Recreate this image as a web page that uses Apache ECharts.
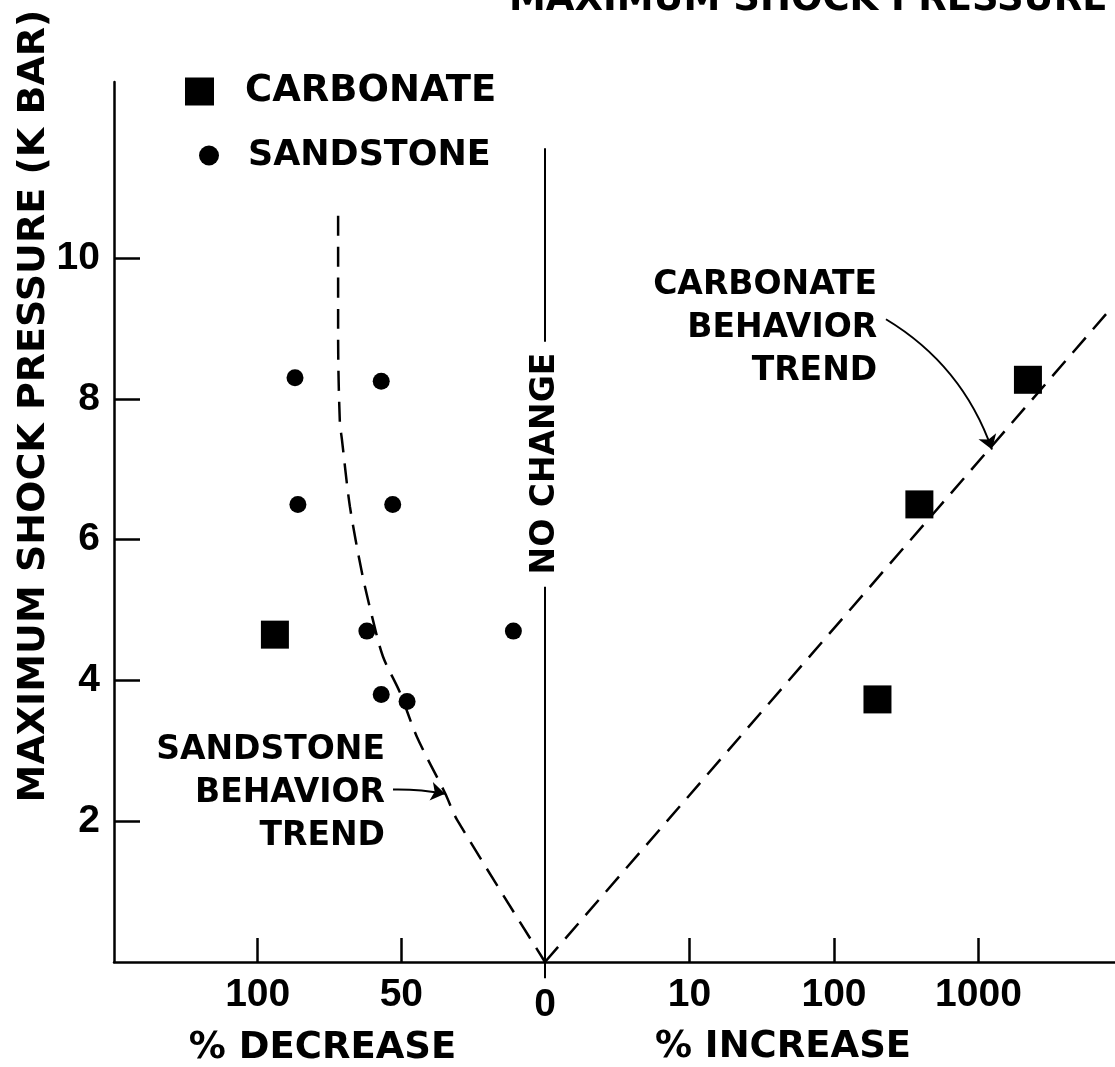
<!DOCTYPE html>
<html>
<head>
<meta charset="utf-8">
<script src="https://cdn.jsdelivr.net/npm/echarts@6/dist/echarts.min.js"></script>
<style>
  html, body { margin: 0; padding: 0; background: #fff; }
  #chart { width: 1115px; height: 1067px; }
</style>
</head>
<body>
<div id="chart"></div>
<script>
// Sandstone samples: % decrease vs. maximum shock pressure (kbar)
const sandstoneDecrease = [87, 57, 86, 53, 62, 11, 57, 48];
const sandstonePressure = [8.3, 8.25, 6.5, 6.5, 4.7, 4.7, 3.8, 3.7];

// Carbonate samples that decreased
const carbonateDecrease = [94];
const carbonateDecPressure = [4.65];

// Carbonate samples that increased
const carbonateIncrease = [200, 390, 2200];
const carbonateIncPressure = [3.73, 6.5, 8.27];

// Sandstone behaviour trend (dashed curve)
const sandTrendDecrease = [72, 72, 71.4, 70.7, 67.9, 63.7, 60.2, 56.4, 50.5, 44.6, 34.8, 30.6, 0];
const sandTrendPressure = [10.6, 8.85, 7.67, 7.43, 6.47, 5.53, 4.91, 4.34, 3.83, 3.2, 2.4, 2.02, 0];

// Carbonate behaviour trend (dashed straight line)
const carbTrendIncrease = [1, 8400];
const carbTrendPressure = [0, 9.3];

// "No change" reference line, broken where its label sits
const noChangeLower = [-0.23, 5.33];
const noChangeUpper = [8.81, 11.56];

// Tick values
const pressureTicks = [2, 4, 6, 8, 10];
const decreaseTicks = [50, 100];
const decreaseLabels = [0, 50, 100];
const increaseTicks = [10, 100, 1000];

const zip = (xs, ys) => xs.map((x, i) => [x, ys[i]]);

const WORD = 'DejaVu Sans';
const NUM = 'Liberation Sans';
const black = '#000';

const chart = echarts.init(document.getElementById('chart'), null, { renderer: 'canvas' });

const dashed = { color: black, width: 2.5, type: [20, 11], opacity: 1 };
const solidItem = { color: black, opacity: 1 };
const noteLabel = {
  show: true,
  fontFamily: WORD,
  fontWeight: 'bold',
  fontSize: 33,
  lineHeight: 43,
  color: black
};

chart.setOption({
  animation: false,
  backgroundColor: '#fff',
  title: {
    text: 'MAXIMUM SHOCK PRESSURE',
    left: 509,
    top: -20,
    padding: 0,
    textStyle: { fontFamily: WORD, fontWeight: 'bold', fontSize: 37, lineHeight: 40, color: black }
  },
  legend: [
    {
      data: [{ name: 'CARBONATE', icon: 'rect' }],
      left: 180, top: 68,
      itemWidth: 29, itemHeight: 28,
      selectedMode: false,
      textStyle: { fontFamily: WORD, fontWeight: 'bold', fontSize: 37, color: black, padding: [0, 0, 0, 26] }
    },
    {
      data: [{ name: 'SANDSTONE', icon: 'circle' }],
      left: 194, top: 133,
      itemWidth: 20, itemHeight: 20,
      selectedMode: false,
      textStyle: { fontFamily: WORD, fontWeight: 'bold', fontSize: 35, color: black, padding: [0, 0, 0, 24] }
    }
  ],
  grid: [
    { left: 114, top: 82, width: 431, height: 880, outerBoundsMode: 'none' },
    { left: 545, top: 82, width: 570, height: 880, outerBoundsMode: 'none' }
  ],
  xAxis: [
    {
      gridIndex: 0,
      type: 'value',
      inverse: true,
      min: 0, max: 150,
      splitLine: { show: false },
      axisLine: { onZero: false, lineStyle: { color: black, width: 2.5 } },
      axisTick: { inside: true, length: 24, lineStyle: { color: black, width: 2.5 }, customValues: decreaseTicks },
      axisLabel: {
        customValues: decreaseLabels,
        margin: 14,
        fontFamily: NUM, fontWeight: 'bold', fontSize: 39, color: black,
        formatter: v => (v === 0 ? '{z|0}' : String(v)),
        rich: { z: { fontFamily: NUM, fontWeight: 'bold', fontSize: 39, color: black, padding: [10, 0, 0, 0] } }
      },
      name: '% DECREASE',
      nameLocation: 'middle',
      nameGap: 63,
      nameTextStyle: { fontFamily: WORD, fontWeight: 'bold', fontSize: 37, color: black, padding: [0, 14, 0, 0] }
    },
    {
      gridIndex: 1,
      type: 'log',
      logBase: 10,
      min: 1, max: 8810,
      splitLine: { show: false },
      axisLine: { onZero: false, lineStyle: { color: black, width: 2.5 } },
      axisTick: { inside: true, length: 24, lineStyle: { color: black, width: 2.5 }, customValues: increaseTicks },
      axisLabel: {
        customValues: increaseTicks,
        margin: 14,
        fontFamily: NUM, fontWeight: 'bold', fontSize: 39, color: black,
        formatter: v => String(Math.round(v))
      },
      name: '% INCREASE',
      nameLocation: 'middle',
      nameGap: 67,
      nameTextStyle: { fontFamily: WORD, fontWeight: 'bold', fontSize: 37, color: black, padding: [0, 94, 0, 0] }
    }
  ],
  yAxis: [
    {
      gridIndex: 0,
      type: 'value',
      min: 0, max: 12.5,
      splitLine: { show: false },
      axisLine: { onZero: false, lineStyle: { color: black, width: 2.5 } },
      axisTick: { inside: true, length: 26, lineStyle: { color: black, width: 2.5 }, customValues: pressureTicks },
      axisLabel: {
        customValues: pressureTicks,
        margin: 14,
        fontFamily: NUM, fontWeight: 'bold', fontSize: 39, color: black
      },
      name: 'MAXIMUM SHOCK PRESSURE (K BAR)',
      nameLocation: 'middle',
      nameRotate: 90,
      nameGap: 44,
      nameTextStyle: { fontFamily: WORD, fontWeight: 'bold', fontSize: 38, color: black, padding: [0, 0, 0, 232] }
    },
    {
      gridIndex: 1,
      type: 'value',
      min: 0, max: 12.5,
      show: false,
      axisLine: { show: false, onZero: false },
      axisTick: { show: false },
      axisLabel: { show: false },
      splitLine: { show: false }
    }
  ],
  series: [
    {
      name: 'SANDSTONE',
      type: 'scatter',
      xAxisIndex: 0, yAxisIndex: 0,
      symbol: 'circle', symbolSize: 17,
      itemStyle: solidItem,
      data: zip(sandstoneDecrease, sandstonePressure)
    },
    {
      name: 'CARBONATE',
      type: 'scatter',
      xAxisIndex: 0, yAxisIndex: 0,
      symbol: 'rect', symbolSize: 28,
      itemStyle: solidItem,
      data: zip(carbonateDecrease, carbonateDecPressure)
    },
    {
      name: 'CARBONATE',
      type: 'scatter',
      xAxisIndex: 1, yAxisIndex: 1,
      symbol: 'rect', symbolSize: 28,
      itemStyle: solidItem,
      data: zip(carbonateIncrease, carbonateIncPressure)
    },
    {
      name: 'sandstone trend',
      type: 'line',
      xAxisIndex: 0, yAxisIndex: 0,
      smooth: 0.3,
      showSymbol: false,
      lineStyle: dashed,
      data: zip(sandTrendDecrease, sandTrendPressure)
    },
    {
      name: 'carbonate trend',
      type: 'line',
      xAxisIndex: 1, yAxisIndex: 1,
      showSymbol: false,
      lineStyle: dashed,
      data: zip(carbTrendIncrease, carbTrendPressure)
    },
    {
      name: 'no change lower',
      type: 'line',
      xAxisIndex: 0, yAxisIndex: 0,
      clip: false,
      showSymbol: false,
      lineStyle: { color: black, width: 2, opacity: 1 },
      data: noChangeLower.map(p => [0, p])
    },
    {
      name: 'no change upper',
      type: 'line',
      xAxisIndex: 0, yAxisIndex: 0,
      showSymbol: false,
      lineStyle: { color: black, width: 2, opacity: 1 },
      data: noChangeUpper.map(p => [0, p])
    },
    {
      name: 'sandstone pointer',
      type: 'lines',
      coordinateSystem: 'cartesian2d',
      xAxisIndex: 0, yAxisIndex: 0,
      symbol: ['none', 'arrow'],
      symbolSize: 14,
      lineStyle: { color: black, width: 2, opacity: 1, curveness: 0.05 },
      data: [{ coords: [[52.9, 2.45], [34.8, 2.39]] }]
    },
    {
      name: 'carbonate pointer',
      type: 'lines',
      coordinateSystem: 'cartesian2d',
      xAxisIndex: 1, yAxisIndex: 1,
      symbol: ['none', 'arrow'],
      symbolSize: 14,
      lineStyle: { color: black, width: 2, opacity: 1, curveness: 0.18 },
      data: [{ coords: [[229, 9.13], [1240, 7.28]] }]
    },
    {
      name: 'notes left',
      type: 'scatter',
      xAxisIndex: 0, yAxisIndex: 0,
      symbolSize: 0,
      silent: true,
      itemStyle: solidItem,
      data: [
        { value: [55.7, 2.4], label: Object.assign({}, noteLabel, { position: 'left', distance: 0, align: 'right', formatter: 'SANDSTONE\nBEHAVIOR\nTREND' }) },
        { value: [0, 7.08], label: Object.assign({}, noteLabel, { position: 'inside', rotate: 90, formatter: 'NO CHANGE' }) }
      ]
    },
    {
      name: 'notes right',
      type: 'scatter',
      xAxisIndex: 1, yAxisIndex: 1,
      symbolSize: 0,
      silent: true,
      itemStyle: solidItem,
      data: [
        { value: [199, 9.0], label: Object.assign({}, noteLabel, { position: 'left', distance: 0, align: 'right', formatter: 'CARBONATE\nBEHAVIOR\nTREND' }) }
      ]
    }
  ]
});
</script>
</body>
</html>
